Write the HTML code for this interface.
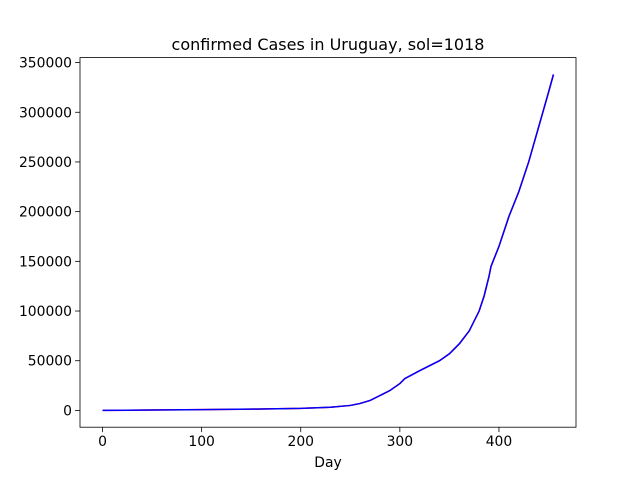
<!DOCTYPE html>
<html><head><meta charset="utf-8"><style>
body{margin:0;background:#fff;}
svg text{font-family:"DejaVu Sans","Liberation Sans",sans-serif;fill:#000;}
</style></head><body>
<svg id="chart" width="640" height="480" xmlns="http://www.w3.org/2000/svg"></svg>
<script>
const days = [0,50,100,150,200,230,250,260,270,280,290,300,305,320,340,350,360,370,380,385,390,392,400,410,420,430,440,450,455];
const cases = [0,400,800,1300,2000,3200,5000,7000,10000,15000,20000,27000,32000,40000,50000,57000,67000,80000,100000,115000,135000,145000,165000,195000,220000,250000,285000,320000,338000];
const xTicks = [0,100,200,300,400];
const yTicks = [0,50000,100000,150000,200000,250000,300000,350000];
const L=80,R=576,T=57.6,B=427.2;
const xmin=-22.75,xmax=477.75,ymin=-16900,ymax=355000;
const sx=v=>L+(v-xmin)/(xmax-xmin)*(R-L);
const sy=v=>B-(v-ymin)/(ymax-ymin)*(B-T);
const svg=document.getElementById('chart');
const NS='http://www.w3.org/2000/svg';
function mk(tag,attrs,parent){const e=document.createElementNS(NS,tag);for(const k in attrs)e.setAttribute(k,attrs[k]);(parent||svg).appendChild(e);return e;}
xTicks.forEach(t=>{
  const g=mk('g',{});
  
  
  mk('line',{x1:sx(t),x2:sx(t),y1:B,y2:B+4.9,stroke:'#000','stroke-width':0.8},g);
  const tx=mk('text',{x:sx(t),y:B+19,'text-anchor':'middle','font-size':'13.9px'},g);tx.textContent=t;
});
yTicks.forEach(t=>{
  const g=mk('g',{});
  
  
  mk('line',{x1:L-4.9,x2:L,y1:sy(t),y2:sy(t),stroke:'#000','stroke-width':0.8},g);
  const tx=mk('text',{x:L-8,y:sy(t)+5,'text-anchor':'end','font-size':'13.9px'},g);tx.textContent=t;
});
const pts=days.map((d,i)=>sx(d)+','+sy(cases[i])).join(' ');
const red=mk('polyline',{points:pts,fill:'none',stroke:'#ff0000','stroke-width':1.5});


const blue=mk('polyline',{points:pts,fill:'none',stroke:'#0000ff','stroke-width':1.5});


const fr=mk('rect',{x:L,y:T,width:R-L,height:B-T,fill:'none',stroke:'#000','stroke-width':0.8});


const title=mk('text',{x:(L+R)/2,y:50,'text-anchor':'middle','font-size':'16px'});
title.textContent='confirmed Cases in Uruguay, sol=1018';


const xl=mk('text',{x:(L+R)/2,y:467,'text-anchor':'middle','font-size':'13.9px'});
xl.textContent='Day';


</script>
</body></html>
